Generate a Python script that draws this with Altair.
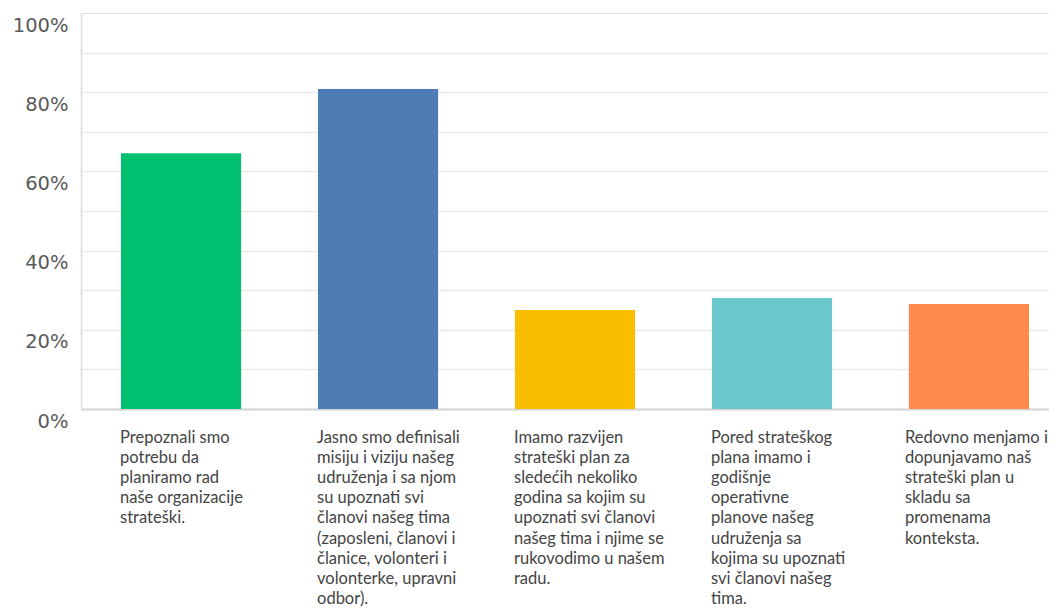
import altair as alt
import pandas as pd

category_lines = [
    ["Prepoznali smo", "potrebu da", "planiramo rad", "naše organizacije", "strateški."],
    ["Jasno smo definisali", "misiju i viziju našeg", "udruženja i sa njom", "su upoznati svi",
     "članovi našeg tima", "(zaposleni, članovi i", "članice, volonteri i", "volonterke, upravni", "odbor)."],
    ["Imamo razvijen", "strateški plan za", "sledećih nekoliko", "godina sa kojim su",
     "upoznati svi članovi", "našeg tima i njime se", "rukovodimo u našem", "radu."],
    ["Pored strateškog", "plana imamo i", "godišnje", "operativne", "planove našeg",
     "udruženja sa", "kojima su upoznati", "svi članovi našeg", "tima."],
    ["Redovno menjamo i", "dopunjavamo naš", "strateški plan u", "skladu sa", "promenama", "konteksta."],
]
values = [64.6, 80.8, 25.0, 28.0, 26.5]
colors = ["#00BF6F", "#507CB6", "#F9BE00", "#6BC8CD", "#FF8B4F"]
y_ticks = [0, 10, 20, 30, 40, 50, 60, 70, 80, 90, 100]

categories = ["|".join(lines) for lines in category_lines]
df = pd.DataFrame({"category": categories, "value": values})

chart = alt.Chart(df).mark_bar().encode(
    x=alt.X(
        "category:N",
        sort=None,
        title=None,
        scale=alt.Scale(range=[0, 988], paddingInner=0.39, paddingOuter=0.203),
        axis=alt.Axis(
            labelExpr="split(datum.label, '|')",
            labelAlign="left",
            labelBaseline="top",
            labelAngle=0,
            labelOffset={"condition": {"test": "indexof(datum.value, 'Redovno') == 0", "value": -64},
                         "value": -61},
            ticks=False,
            labelPadding=20,
            labelFont="Lato",
            labelFontSize=16.5,
            labelLineHeight=20.2,
            labelColor="#444444",
            labelOverlap=False,
            labelLimit=400,
            domainColor="#d4d4d4",
            domainWidth=2,
        ),
    ),
    y=alt.Y(
        "value:Q",
        title=None,
        scale=alt.Scale(domain=[0, 100], nice=False),
        axis=alt.Axis(
            values=y_ticks,
            labelExpr="datum.value % 20 == 0 ? datum.value + '%' : ''",
            ticks=False,
            labelPadding=13,
            labelOffset=12,
            labelFont="DejaVu Sans",
            labelFontSize=19.5,
            labelColor="#5a5a5a",
            domainColor="#dcdcdc",
            domainWidth=1.5,
            gridColor="#ebebeb",
            gridWidth=1.5,
            gridOpacity={"condition": {"test": "datum.value == 100", "value": 0}, "value": 1},
        ),
    ),
    color=alt.Color("category:N", scale=alt.Scale(domain=categories, range=colors), legend=None),
).properties(
    width=968,
    height=396,
    autosize=alt.AutoSizeParams(type="none"),
    padding={"left": 73, "top": 5, "right": 0, "bottom": 201},
).configure_view(strokeWidth=0).configure(background="white")

chart.save("out.html", embed_options={"renderer": "svg", "actions": False})
